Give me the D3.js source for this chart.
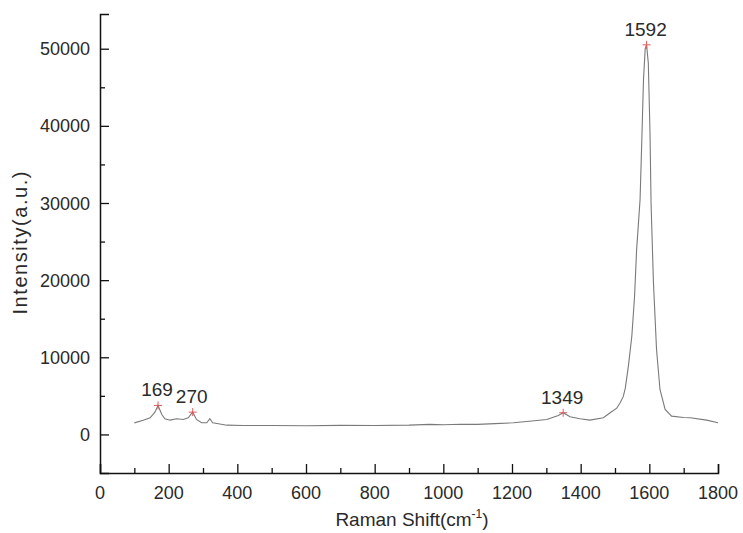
<!DOCTYPE html>
<html>
<head>
<meta charset="utf-8">
<script src="https://cdn.jsdelivr.net/npm/d3@7"></script>
<style>
  body { margin: 0; background: #fff; }
  text { font-family: "Liberation Sans", Arial, sans-serif; fill: #2a2a2a; }
</style>
</head>
<body>
<svg id="chart" width="743" height="533"></svg>
<script>
// spectrum
let shift = [100, 126, 146, 160, 169, 180, 189, 204, 223, 243, 257, 270, 281, 296, 311, 320, 328, 345, 369, 417,
    500, 600, 700, 800, 900, 961, 1000, 1050, 1100, 1150, 1204, 1250, 1301, 1335, 1349, 1369, 1398, 1427, 1466,
    1486, 1505, 1515, 1524, 1530, 1539, 1549, 1557, 1563, 1573, 1578, 1583, 1588, 1592, 1597, 1602, 1605, 1612,
    1621, 1631, 1646, 1665, 1700, 1719, 1767, 1800];
let intensity = [1500, 1850, 2160, 2890, 3760, 2590, 2030, 1850, 2030, 1940, 2160, 2890, 1940, 1510, 1510, 2030, 1510, 1380, 1200, 1160,
    1150, 1130, 1180, 1150, 1200, 1300, 1250, 1320, 1300, 1400, 1510, 1700, 1940, 2460, 2810, 2290, 2030, 1850, 2160,
    2810, 3400, 4100, 4900, 6000, 8850, 12730, 17900, 23960, 30440, 38000, 46000, 50000, 50500, 48150, 39000, 30000, 19650,
    11000, 5830, 3240, 2370, 2200, 2160, 1850, 1510];

let peakShift = [169, 270, 1349, 1592];
let peakIntensity = [3760, 2890, 2810, 50500];

let xTicks = [0, 200, 400, 600, 800, 1000, 1200, 1400, 1600, 1800];
let xMinor = [100, 300, 500, 700, 900, 1100, 1300, 1500, 1700];
let yTicks = [0, 10000, 20000, 30000, 40000, 50000];
let yMinor = [5000, 15000, 25000, 35000, 45000];

let svg = d3.select("#chart");

let x = d3.scaleLinear().domain([0, 1800]).range([100, 718]);
let y = d3.scaleLinear().domain([-5000, 54500]).range([473, 14]);

// line
let line = d3.line()
    .x((d, i) => x(shift[i]))
    .y((d, i) => y(intensity[i]));

svg.append("path")
    .datum(intensity)
    .attr("d", line)
    .attr("fill", "none")
    .attr("stroke", "#7a7a7a")
    .attr("stroke-width", 1.1);

// axes, ticks pointing inward
svg.append("g").attr("transform", "translate(0,473)")
    .call(d3.axisTop(x).tickValues(xTicks).tickSize(9).tickFormat(""));
svg.append("g").attr("transform", "translate(0,473)")
    .call(d3.axisTop(x).tickValues(xMinor).tickSize(5).tickFormat(""))
    .select(".domain").remove();

svg.append("g").attr("transform", "translate(100,0)")
    .call(d3.axisRight(y).tickValues(yTicks).tickSize(9).tickFormat(""));
svg.append("g").attr("transform", "translate(100,0)")
    .call(d3.axisRight(y).tickValues(yMinor).tickSize(5).tickFormat(""))
    .select(".domain").remove();

svg.selectAll(".domain").attr("stroke", "#111").attr("stroke-width", 1.5);
svg.selectAll(".tick line").attr("stroke", "#111").attr("stroke-width", 1.3);

// tick labels
svg.selectAll(".xlab")
    .data(xTicks).enter()
    .append("text")
    .attr("x", d => x(d))
    .attr("y", 499)
    .attr("text-anchor", "middle")
    .style("font-size", "18px")
    .text(d => d);

svg.selectAll(".ylab")
    .data(yTicks).enter()
    .append("text")
    .attr("x", 90)
    .attr("y", d => y(d) + 6.5)
    .attr("text-anchor", "end")
    .style("font-size", "18px")
    .text(d => d);

// axis titles
let xt = svg.append("text")
    .attr("x", 412)
    .attr("y", 526)
    .attr("text-anchor", "middle")
    .style("font-size", "19px")
    .text("Raman Shift(cm");
xt.append("tspan").attr("dy", -8).style("font-size", "12px").text("-1");
xt.append("tspan").attr("dy", 8).text(")");

svg.append("text")
    .attr("transform", "translate(27,243) rotate(-90)")
    .attr("text-anchor", "middle")
    .attr("textLength", 143)
    .attr("lengthAdjust", "spacing")
    .style("font-size", "20px")
    .text("Intensity(a.u.)");

// peak markers and labels
svg.selectAll(".peak")
    .data(peakShift).enter()
    .append("path")
    .attr("transform", (d, i) => "translate(" + x(d) + "," + y(peakIntensity[i]) + ")")
    .attr("d", d3.symbol().type({draw: function(ctx, s) {
        ctx.moveTo(-4, 0); ctx.lineTo(4, 0);
        ctx.moveTo(0, -4); ctx.lineTo(0, 4);
    }}))
    .attr("fill", "none")
    .attr("stroke", "#e05a5a")
    .attr("stroke-width", 1);

svg.selectAll(".peaklab")
    .data(peakShift).enter()
    .append("text")
    .attr("x", d => x(d) - 1)
    .attr("y", (d, i) => y(peakIntensity[i]) - 9)
    .attr("text-anchor", "middle")
    .style("font-size", "19px")
    .text(d => d);
</script>
</body>
</html>
